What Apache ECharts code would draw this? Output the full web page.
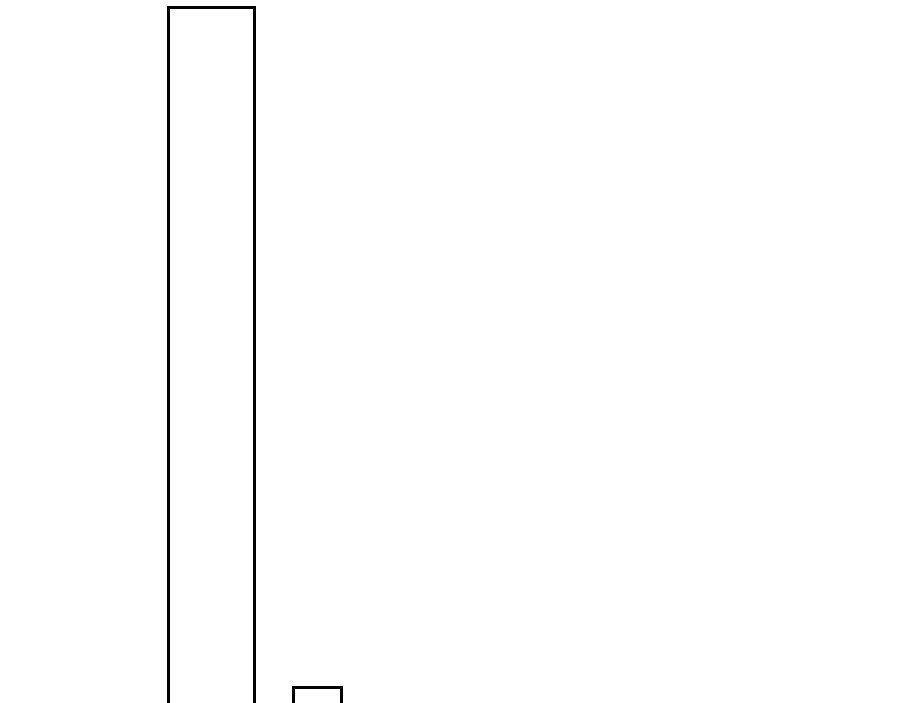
<!DOCTYPE html>
<html>
<head>
<meta charset="utf-8">
<script src="https://cdn.jsdelivr.net/npm/echarts@6/dist/echarts.min.js"></script>
<style>
    html, body { margin: 0; padding: 0; background: #fff; }
    #chart { width: 900px; height: 703px; }
</style>
</head>
<body>
<div id="chart"></div>
<script>
// 数据
var categories = ['A', 'B'];
var tallValues = [100, '-'];
var shortValues = ['-', 15];
var yMax = 100;

(function () {
    var barStyle = {
        color: '#ffffff',
        borderColor: '#000000',
        borderWidth: 3
    };
    var hiddenCat = {
        type: 'category',
        data: categories,
        axisLine: { show: false },
        axisTick: { show: false },
        axisLabel: { show: false },
        splitLine: { show: false }
    };
    var option = {
        backgroundColor: '#ffffff',
        animation: false,
        grid: {
            left: 158.5,
            top: 6,
            width: 212,
            height: 800,
            outerBoundsMode: 'none',
            containLabel: false
        },
        xAxis: [hiddenCat, Object.assign({}, hiddenCat)],
        yAxis: {
            type: 'value',
            min: 0,
            max: yMax,
            show: false
        },
        series: [
            {
                type: 'bar',
                xAxisIndex: 0,
                barWidth: 89,
                itemStyle: barStyle,
                data: tallValues
            }, {
                type: 'bar',
                xAxisIndex: 1,
                barWidth: 51,
                itemStyle: barStyle,
                data: shortValues
            }
        ]
    };
    var myChart = echarts.init(document.getElementById('chart'));
    myChart.setOption(option);
})();
</script>
</body>
</html>
